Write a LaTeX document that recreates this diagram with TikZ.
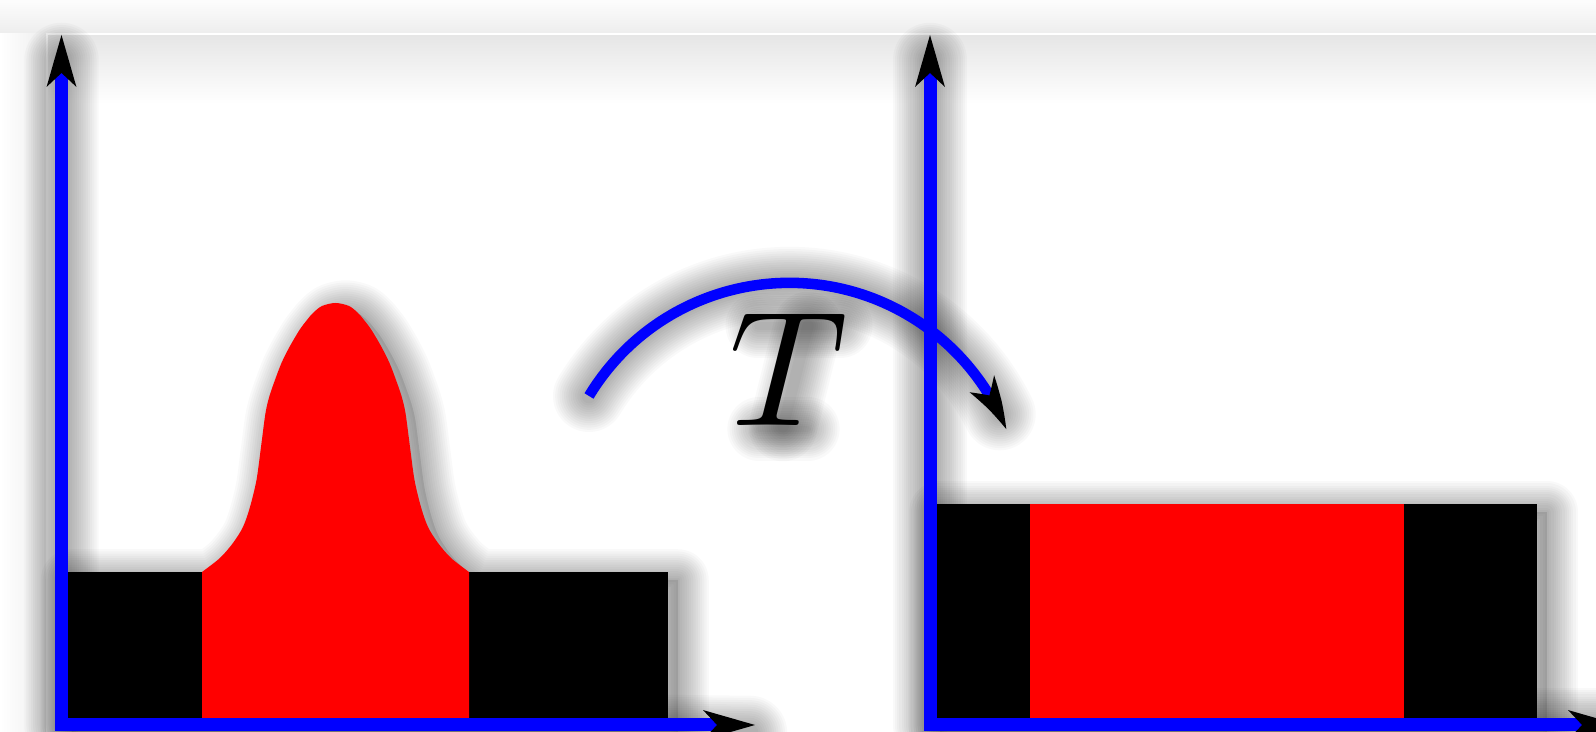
\documentclass[tikz,border=0pt]{standalone}
\usetikzlibrary{arrows.meta,bending}
\tikzset{
  axisline/.style={draw=blue, line width=7.4pt, line join=miter},
  maparc/.style={draw=blue, line width=6pt},
  sh/.style={black, opacity=0.022, line join=round, line cap=round, shift={(10,-8)}},
  bigT/.style={scale=9.33, inner sep=0pt},
}
\newcommand{\shstroke}[2]{\foreach \w in {2.5,5,...,35}{\draw[sh, line width=#1+\w pt] #2;}}
\newcommand{\shfill}[1]{\fill[sh, opacity=0.1] #1; \shstroke{0pt}{#1}}
\begin{document}
\begin{tikzpicture}[x=0.02cm,y=0.02cm]
\useasboundingbox (0,0) rectangle (1596,732);
\clip (0,0) rectangle (1596,732);
% background panel
\fill[white] (0,0) rectangle (1596,732);
\shade[top color=black!1, bottom color=black!7] (0,698) rectangle (1596,732);
\shade[left color=white, right color=black!7] (0,0) rectangle (47,698);
\shade[top color=black!10, bottom color=white] (47,628) rectangle (1596,698);
\draw[white, line width=1.5pt] (47,0) -- (47,698) -- (1596,698);
% coordinates
\coordinate (O1) at (61.5,7);
\coordinate (Y1) at (61.5,697);
\coordinate (X1) at (755,7);
\coordinate (O2) at (930,7);
\coordinate (Y2) at (930,697);
\coordinate (X2) at (1620,7);
\coordinate (S1) at (61.5,672);
\coordinate (S2) at (930,672);
\coordinate (A0) at (589,336);
% shadows
\shfill{(61.5,0) -- (61.5,160) -- plot[smooth,tension=0.5] coordinates {(202,160) (220,174) (233,189) (243,205) (250,225) (256.5,252) (261,285) (265.5,319) (269.5,336) (275,352) (281.5,369) (289.5,385) (299.5,402) (307,412) (313,419) (322,426) (335.5,429) (349,426) (358,419) (364,412) (371.5,402) (381.5,385) (389.5,369) (396,352) (401.5,336) (405.5,319) (410,285) (414.5,252) (421,225) (428,205) (438,189) (451,174) (469,160)} -- (668,160) -- (668,0) -- cycle}
\shfill{(930,0) rectangle (1537,228)}
\shstroke{7.4pt}{(S1) -- (O1) -- (740,7)}
\shstroke{7.4pt}{(S2) -- (O2) -- (X2)}
\shstroke{6pt}{(A0) arc[start angle=148.9, end angle=26, radius=234]}
\shstroke{2pt}{(748,414) -- (830,414)}
\shstroke{4pt}{(798,414) -- (773,313)}
\shstroke{1pt}{(749,311) -- (798,311)}
% left distribution
\fill[black] (61.5,7) rectangle (668,160);
\fill[red] (202,7) -- plot[smooth,tension=0.5] coordinates {(202,160) (220,174) (233,189) (243,205) (250,225) (256.5,252) (261,285) (265.5,319) (269.5,336) (275,352) (281.5,369) (289.5,385) (299.5,402) (307,412) (313,419) (322,426) (335.5,429) (349,426) (358,419) (364,412) (371.5,402) (381.5,385) (389.5,369) (396,352) (401.5,336) (405.5,319) (410,285) (414.5,252) (421,225) (428,205) (438,189) (451,174) (469,160)} -- (469,7) -- cycle;
% right distribution
\fill[black] (930,7) rectangle (1537,228);
\fill[red] (1030,7) rectangle (1404,228);
% axes
\draw[axisline, {Stealth[length=29.6pt,width=17pt,inset=8pt,line width=0pt,black]}-{Stealth[length=29.6pt,width=17pt,inset=8pt,line width=0pt,black]}] (Y1) -- (O1) -- (X1);
\draw[axisline, {Stealth[length=29.6pt,width=17pt,inset=8pt,line width=0pt,black]}-{Stealth[length=29.6pt,width=17pt,inset=8pt,line width=0pt,black]}] (Y2) -- (O2) -- (X2);
% map arc
\draw[maparc, -{Stealth[length=29.6pt,width=17pt,inset=8pt,line width=0pt,black,bend]}] (A0) arc[start angle=148.9, end angle=22, radius=234];
\node[bigT] (T) at (789,363) {$T$};
\end{tikzpicture}
\end{document}
